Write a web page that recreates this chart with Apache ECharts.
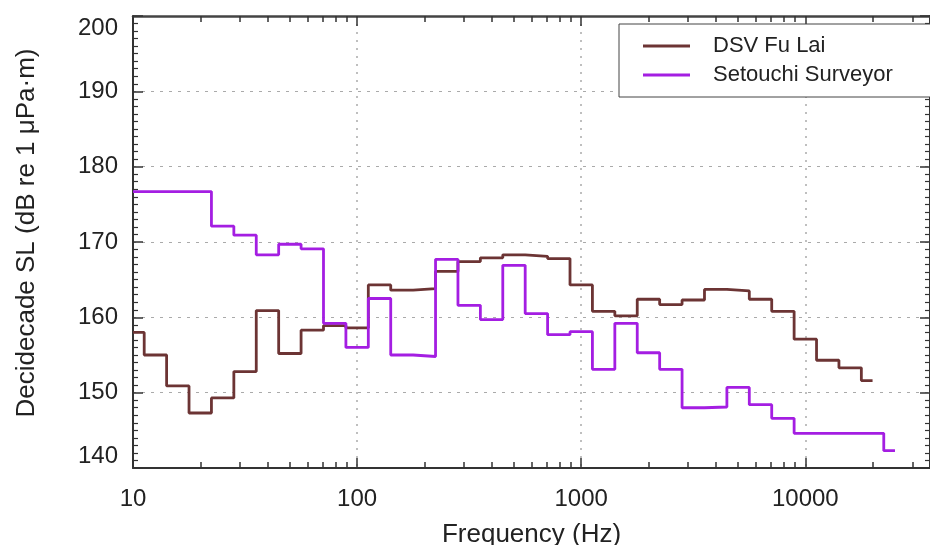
<!DOCTYPE html>
<html>
<head>
<meta charset="utf-8">
<script src="https://cdn.jsdelivr.net/npm/echarts@6/dist/echarts.min.js"></script>
<style>
html, body { margin: 0; padding: 0; background: #fff; }
#chart { width: 930px; height: 545px; }
</style>
</head>
<body>
<div id="chart"></div>
<script>
// decidecade band centres (nominal, Hz)
var bandCentres = [10, 12.5, 16, 20, 25, 31.5, 40, 50, 63, 80, 100, 125, 160, 200, 250, 315, 400, 500, 630, 800,
	1000, 1250, 1600, 2000, 2500, 3150, 4000, 5000, 6300, 8000, 10000, 12500, 16000, 20000, 25000];

// source levels, dB re 1 uPa m
var fuLai = [158.0, 155.0, 150.9, 147.3, 149.3, 152.8, 160.9, 155.2, 158.3, 158.9,
	158.6, 164.3, 163.6, 163.8, 166.1, 167.4, 167.9, 168.3, 168.1, 167.8,
	164.3, 160.8, 160.2, 162.4, 161.7, 162.3, 163.7, 163.5, 162.4, 160.8,
	157.1, 154.3, 153.3, 151.6];
var setouchi = [176.7, 176.7, 176.7, 176.7, 172.1, 170.9, 168.3, 169.7, 169.1, 159.2,
	156.0, 162.5, 155.0, 154.8, 167.7, 161.6, 159.7, 166.9, 160.5, 157.7,
	158.1, 153.1, 159.2, 155.3, 153.1, 148.0, 148.1, 150.7, 148.4, 146.6,
	144.6, 144.6, 144.6, 144.6, 142.3];

var seriesNames = ['DSV Fu Lai', 'Setouchi Surveyor'];
var seriesColors = ['#6c3434', '#a41ee2'];
var xTickLabels = [10, 100, 1000, 10000];
var yTickLabels = [140, 150, 160, 170, 180, 190, 200];

var X_MIN = 10;
var X_MAX = 36000;
var FONT = '"Liberation Sans", Arial, sans-serif';

// band index from nominal centre
function bandIndex(f) {
	return Math.round(10 * Math.log10(f));
}

// stairs: each band flat from its lower edge, last band up to its centre
function stairs(vals) {
	var pts = [];
	for(var i = 0; i < vals.length; i++) {
		var lo = Math.pow(10, (bandIndex(bandCentres[i]) - 0.5) / 10);
		pts.push([Math.max(lo, X_MIN), vals[i]]);
	}
	var last = vals.length - 1;
	pts.push([Math.pow(10, bandIndex(bandCentres[last]) / 10), vals[last]]);
	return pts;
}

// tick positions in log10 space for the decorative axes
var logMin = Math.log10(X_MIN);
var logMax = Math.log10(X_MAX);
var majorLog = xTickLabels.map(function(v) { return Math.log10(v); });
var minorLog = [];
for(var d = 1; d <= 4; d++) {
	for(var k = 2; k <= 9; k++) {
		var lv = Math.log10(k * Math.pow(10, d));
		if(lv < logMax) minorLog.push(lv);
	}
}

var tickStyle = { color: '#333', width: 1.5 };

function decoAxis(pos, values, len, lineShow) {
	return {
		type: 'value',
		position: pos,
		min: logMin,
		max: logMax,
		axisLine: { show: lineShow, lineStyle: { color: '#444', width: 2.5 } },
		axisTick: { show: true, inside: true, length: len, customValues: values, lineStyle: tickStyle },
		axisLabel: { show: false },
		splitLine: { show: false }
	};
}

var chart = echarts.init(document.getElementById('chart'));

var option = {
	animation: false,
	backgroundColor: '#fff',
	grid: { left: 133, right: 0, top: 16, bottom: 77, outerBoundsMode: 'none', containLabel: false },
	legend: {
		orient: 'vertical',
		left: 619,
		top: 24,
		padding: [11, 40, 11, 24],
		itemGap: 7,
		itemWidth: 47,
		itemHeight: 3,
		icon: 'rect',
		backgroundColor: '#fff',
		borderColor: '#444',
		borderWidth: 1,
		borderRadius: 0,
		textStyle: { fontFamily: FONT, fontSize: 22, color: '#222', padding: [0, 0, 0, 18] },
		data: seriesNames
	},
	xAxis: [{
		type: 'log',
		position: 'bottom',
		min: X_MIN,
		max: X_MAX,
		name: 'Frequency (Hz)',
		nameLocation: 'middle',
		nameGap: 54,
		nameTextStyle: { fontFamily: FONT, fontSize: 26, color: '#222' },
		axisLine: { show: true, lineStyle: { color: '#333', width: 2 } },
		axisTick: { show: true, inside: true, length: 10, lineStyle: tickStyle },
		axisLabel: {
			fontFamily: FONT, fontSize: 24, color: '#222', margin: 19,
			showMaxLabel: false,
			formatter: function(v) {
				return xTickLabels.indexOf(Math.round(v)) >= 0 ? String(Math.round(v)) : '';
			}
		},
		splitLine: { show: true, lineStyle: { color: '#aaa', width: 1.5, type: [2, 6] } }
	},
		decoAxis('bottom', minorLog, 6, false),
		decoAxis('top', majorLog, 10, true),
		decoAxis('top', minorLog, 6, false)
	],
	yAxis: [{
		type: 'value',
		position: 'left',
		min: yTickLabels[0],
		max: yTickLabels[yTickLabels.length - 1],
		interval: 10,
		name: 'Decidecade SL (dB re 1 μPa·m)',
		nameLocation: 'middle',
		nameGap: 93,
		nameTextStyle: { fontFamily: FONT, fontSize: 26, color: '#222', padding: [0, 0, 0, 18] },
		axisLine: { show: true, lineStyle: { color: '#333', width: 2 } },
		axisTick: { show: true, inside: true, length: 10, lineStyle: tickStyle },
		minorTick: { show: true, splitNumber: 10, length: 5, lineStyle: { color: '#333', width: 1.2 } },
		axisLabel: {
			fontFamily: FONT, fontSize: 24, color: '#222', margin: 15,
			verticalAlignMaxLabel: 'top',
			verticalAlignMinLabel: 'bottom'
		},
		splitLine: { show: true, lineStyle: { color: '#aaa', width: 1.2, type: [3, 6] } }
	}, {
		type: 'value',
		position: 'right',
		min: yTickLabels[0],
		max: yTickLabels[yTickLabels.length - 1],
		interval: 10,
		axisLine: { show: true, lineStyle: { color: '#333', width: 2 } },
		axisTick: { show: true, inside: true, length: 10, lineStyle: tickStyle },
		minorTick: { show: true, splitNumber: 10, length: 5, lineStyle: { color: '#333', width: 1.2 } },
		axisLabel: { show: false },
		splitLine: { show: false }
	}],
	series: [{
		name: seriesNames[0],
		type: 'line',
		step: 'end',
		symbol: 'none',
		xAxisIndex: 0,
		yAxisIndex: 0,
		color: seriesColors[0],
		lineStyle: { color: seriesColors[0], width: 2.8 },
		data: stairs(fuLai),
		z: 3
	}, {
		name: seriesNames[1],
		type: 'line',
		step: 'end',
		symbol: 'none',
		xAxisIndex: 0,
		yAxisIndex: 0,
		color: seriesColors[1],
		lineStyle: { color: seriesColors[1], width: 2.8 },
		data: stairs(setouchi),
		z: 4
	}]
};

chart.setOption(option);
</script>
</body>
</html>
